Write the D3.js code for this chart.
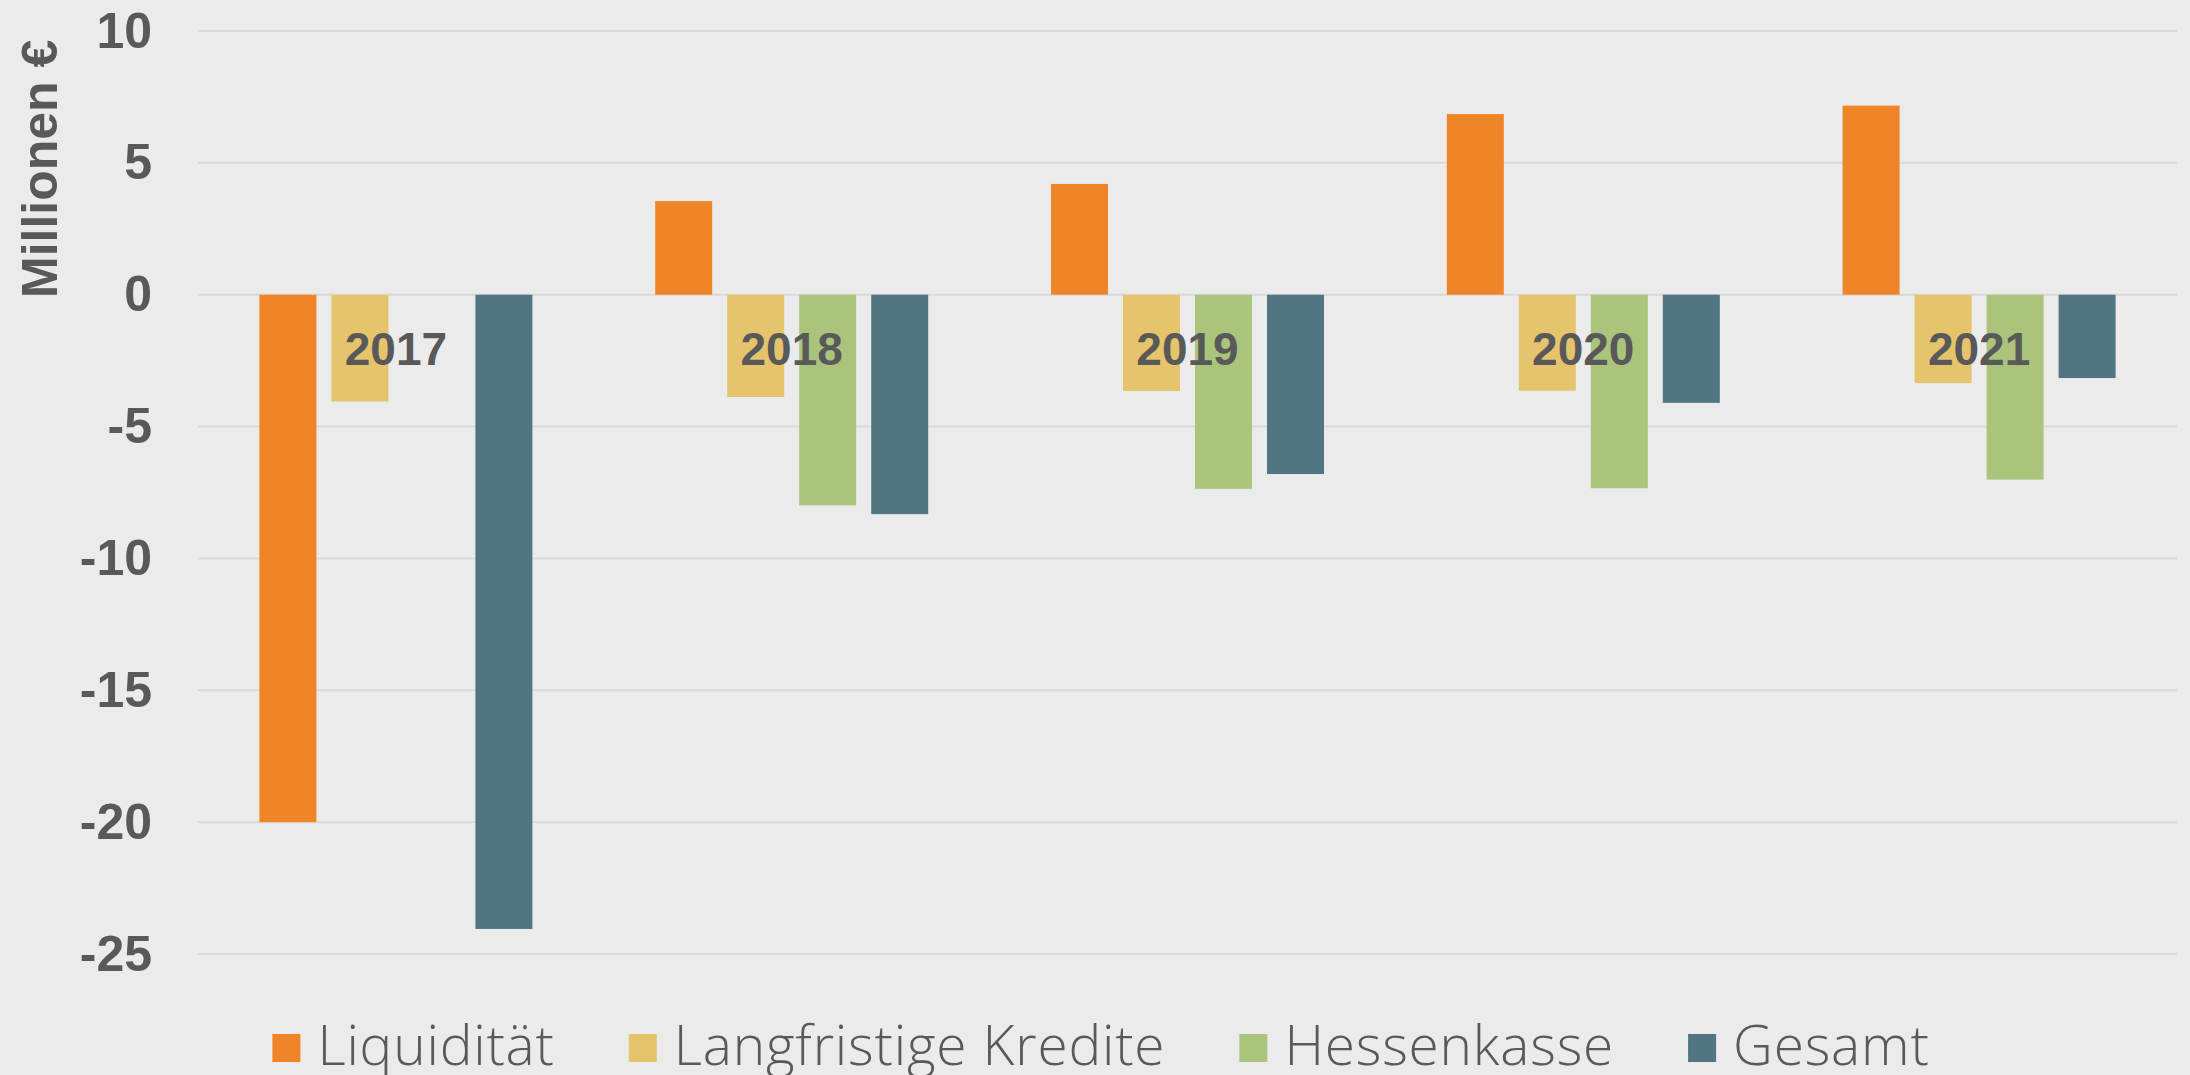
<!DOCTYPE html>
<html>
<head>
<meta charset="utf-8">
<script src="https://cdn.jsdelivr.net/npm/d3@7"></script>
<style>
  html, body { margin: 0; padding: 0; background: #ebebeb; }
  svg { display: block; }
</style>
</head>
<body>
<div id="chart"></div>
<script>
// data (Millionen €)
const years = ["2017", "2018", "2019", "2020", "2021"];
const seriesNames = ["Liquidität", "Langfristige Kredite", "Hessenkasse", "Gesamt"];
const liquiditaet = [-20.0, 3.55, 4.2, 6.85, 7.17];
const kredite = [-4.05, -3.88, -3.65, -3.64, -3.35];
const hessenkasse = [0, -7.99, -7.36, -7.34, -7.01];
const gesamt = [-24.05, -8.32, -6.8, -4.1, -3.16];
const yTicks = [10, 5, 0, -5, -10, -15, -20, -25];
const colors = ["#ee8629", "#e6c46c", "#aac47c", "#527584"];

const W = 2190, H = 1075;
const plot = {left: 198, right: 2177, top: 31, bottom: 954};
const textColor = "#595959";
const boldFont = "'Liberation Sans', Arial, sans-serif";
const legendFont = "'Open Sans', sans-serif";

const values = [liquiditaet, kredite, hessenkasse, gesamt];
const rows = years.map((y, i) => ({
  year: y,
  vals: seriesNames.map((s, j) => ({series: s, idx: j, value: values[j][i]}))
}));

const svg = d3.select("#chart").append("svg")
  .attr("width", W)
  .attr("height", H);

svg.append("rect").attr("width", W).attr("height", H).attr("fill", "#ebebeb");

// scales
const x0 = d3.scaleBand()
  .domain(years)
  .range([plot.left, plot.right])
  .padding(0);

const groupW = 273;
const x1 = d3.scaleBand()
  .domain(seriesNames)
  .range([x0.bandwidth() / 2 - groupW / 2, x0.bandwidth() / 2 + groupW / 2])
  .paddingInner(15 / 72)
  .paddingOuter(0);

const y = d3.scaleLinear()
  .domain([-25, 10])
  .range([plot.bottom, plot.top]);

// gridlines
svg.append("g")
  .selectAll("line")
  .data(yTicks)
  .join("line")
    .attr("x1", plot.left)
    .attr("x2", plot.right)
    .attr("y1", d => y(d))
    .attr("y2", d => y(d))
    .attr("stroke", "#d9d9d9")
    .attr("stroke-width", 2);

// y axis labels
const yAxis = svg.append("g")
  .attr("transform", `translate(${plot.left},0)`)
  .call(d3.axisLeft(y).tickValues(yTicks).tickFormat(d => String(d)).tickSize(0).tickPadding(46));
yAxis.select(".domain").remove();
yAxis.selectAll("text")
  .attr("fill", textColor)
  .style("font-family", boldFont)
  .style("font-weight", "bold")
  .style("font-size", "50px");

// axis title
svg.append("text")
  .attr("transform", "translate(57,298) rotate(-90)")
  .attr("text-anchor", "start")
  .attr("fill", textColor)
  .style("font-family", boldFont)
  .style("font-weight", "bold")
  .style("font-size", "50px")
  .text("Millionen €");

// bars
const groups = svg.append("g")
  .selectAll("g")
  .data(rows)
  .join("g")
    .attr("transform", d => `translate(${x0(d.year)},0)`);

groups.selectAll("rect")
  .data(d => d.vals.filter(v => v.value !== 0))
  .join("rect")
    .attr("x", d => x1(d.series))
    .attr("width", x1.bandwidth())
    .attr("y", d => y(Math.max(0, d.value)))
    .attr("height", d => Math.abs(y(d.value) - y(0)))
    .attr("fill", d => colors[d.idx]);

// category labels sit below the zero line
groups.append("text")
  .attr("x", x0.bandwidth() / 2)
  .attr("y", y(0) + 70)
  .attr("text-anchor", "middle")
  .attr("fill", textColor)
  .style("font-family", boldFont)
  .style("font-weight", "bold")
  .style("font-size", "46px")
  .text(d => d.year);

// legend
const legend = svg.append("g");
const items = legend.selectAll("g")
  .data(seriesNames)
  .join("g");
items.append("rect")
  .attr("x", 0)
  .attr("y", 1034)
  .attr("width", 28)
  .attr("height", 28)
  .attr("fill", (d, i) => colors[i]);
items.append("text")
  .attr("x", 45)
  .attr("y", 1065)
  .attr("fill", textColor)
  .style("font-family", legendFont)
  .style("font-weight", "300")
  .style("font-size", "55px")
  .style("letter-spacing", "0.8px")
  .text(d => d);

let pos = 0;
const offsets = [];
items.each(function() {
  offsets.push(pos);
  const tw = d3.select(this).select("text").node().getComputedTextLength();
  pos += 45 + tw + 74;
});
const totalW = pos - 74;
const startX = 1101 - totalW / 2;
items.attr("transform", (d, i) => `translate(${startX + offsets[i]},0)`);
</script>
</body>
</html>
